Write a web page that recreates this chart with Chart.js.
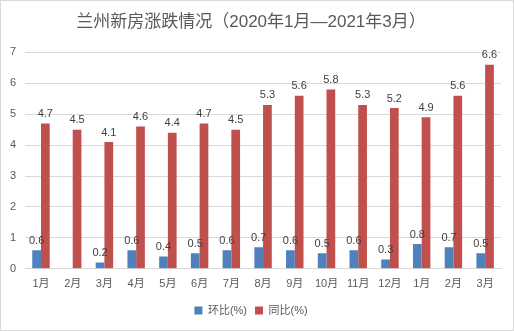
<!DOCTYPE html>
<html>
<head>
<meta charset="utf-8">
<script src="https://cdn.jsdelivr.net/npm/chart.js@4"></script>
<style>
  html, body { margin: 0; padding: 0; background: #fff; }
  #wrap { position: relative; width: 512px; height: 329px; border: 1px solid #d9d9d9; }
</style>
</head>
<body>
<div id="wrap"><canvas id="chart"></canvas></div>
<script>
var months = ['1月', '2月', '3月', '4月', '5月', '6月', '7月', '8月', '9月', '10月', '11月', '12月', '1月', '2月', '3月'];
var huanbi = [0.6, null, 0.2, 0.6, 0.4, 0.5, 0.6, 0.7, 0.6, 0.5, 0.6, 0.3, 0.8, 0.7, 0.5];
var tongbi = [4.7, 4.5, 4.1, 4.6, 4.4, 4.7, 4.5, 5.3, 5.6, 5.8, 5.3, 5.2, 4.9, 5.6, 6.6];

var fontFamily = "'Liberation Sans', 'Noto Sans CJK SC', sans-serif";

// simple value labels above each bar
var barLabels = {
    id: 'barLabels',
    afterDatasetsDraw: function(chart) {
        var ctx = chart.ctx;
        ctx.save();
        ctx.font = '11px ' + fontFamily;
        ctx.fillStyle = '#404040';
        ctx.textAlign = 'center';
        ctx.textBaseline = 'bottom';
        chart.data.datasets.forEach(function(ds, i) {
            var meta = chart.getDatasetMeta(i);
            meta.data.forEach(function(bar, j) {
                var v = ds.data[j];
                if (v === null || v === undefined) return;
                ctx.fillText(v.toFixed(1), bar.x, bar.y - 4);
            });
        });
        ctx.restore();
    }
};

new Chart(document.getElementById('chart'), {
    type: 'bar',
    data: {
        labels: months,
        datasets: [{
            label: '环比(%)',
            data: huanbi,
            backgroundColor: '#4F81BD',
            borderWidth: 0
        }, {
            label: '同比(%)',
            data: tongbi,
            backgroundColor: '#C0504D',
            borderWidth: 0
        }]
    },
    options: {
        responsive: true,
        maintainAspectRatio: false,
        animation: false,
        layout: { padding: { left: 0, right: 12, top: 4, bottom: 4 } },
        datasets: {
            bar: { categoryPercentage: 0.55, barPercentage: 1.0 }
        },
        plugins: {
            title: {
                display: true,
                text: '兰州新房涨跌情况（2020年1月—2021年3月）',
                color: '#595959',
                font: { family: fontFamily, size: 17, weight: 'normal' },
                padding: { top: 7, bottom: 20 }
            },
            legend: {
                position: 'bottom',
                labels: {
                    boxWidth: 8,
                    boxHeight: 8,
                    color: '#595959',
                    font: { family: fontFamily, size: 11 },
                    padding: 8
                }
            },
            tooltip: { enabled: false }
        },
        scales: {
            x: {
                grid: { display: false },
                border: { color: '#d9d9d9' },
                afterFit: function(scale) { scale.height += 5; },
                ticks: {
                    color: '#595959',
                    font: { family: fontFamily, size: 11 },
                    maxRotation: 0,
                    autoSkip: false,
                    padding: 1
                }
            },
            y: {
                min: 0,
                max: 7,
                grid: { color: '#d9d9d9', drawTicks: false },
                border: { display: false },
                ticks: {
                    stepSize: 1,
                    color: '#595959',
                    font: { family: fontFamily, size: 11 },
                    padding: 9
                }
            }
        }
    },
    plugins: [barLabels]
});
</script>
</body>
</html>
